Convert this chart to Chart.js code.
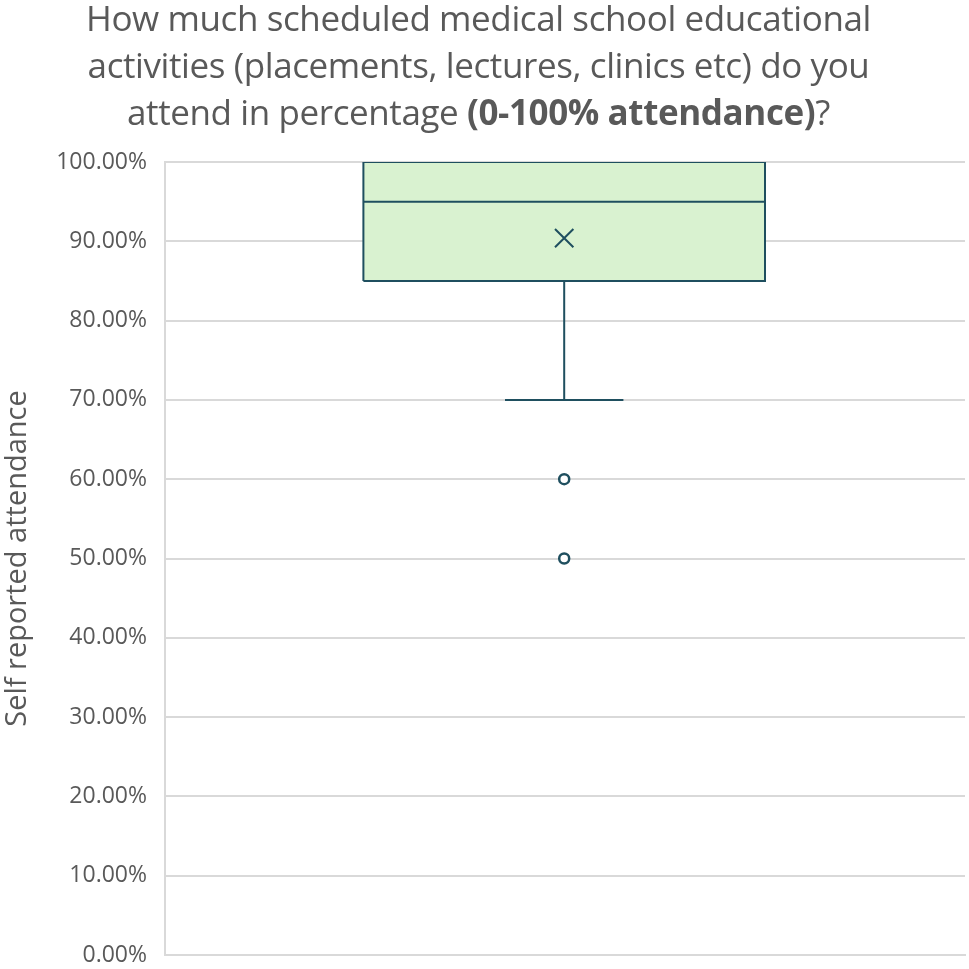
<!DOCTYPE html>
<html>
<head>
<meta charset="utf-8">
<script src="https://cdn.jsdelivr.net/npm/chart.js@4.4.1/dist/chart.umd.min.js"></script>
<style>
  html, body { margin:0; padding:0; background:#fff; }
  #wrap { position:relative; width:969px; height:969px; }
  #title {
    position:absolute; left:-6px; top:-6px; width:969px; text-align:center;
    font-family:"Open Sans","Noto Sans",sans-serif; font-size:35px; line-height:47px;
    color:#595959; letter-spacing:-0.4px;
  }
  #title b { font-weight:700; }
  canvas { position:absolute; left:0; top:0; }
</style>
</head>
<body>
<div id="wrap">
  <canvas id="c" width="969" height="969"></canvas>
  <div id="title">How much scheduled medical school educational<br>activities (placements, lectures, clinics etc) do you<br>attend in percentage <b>(0-100% attendance)</b>?</div>
</div>
<script>
// box plot summary (percent)
const q1 = 85, median = 95, q3 = 100, mean = 90.4;
const whiskerLow = 70;
const outliers = [60, 50];
const yTicks = [0, 10, 20, 30, 40, 50, 60, 70, 80, 90, 100];

const INK  = '#1f4f5f';
const FILL = '#d9f2d0';
const GRID = '#d9d9d9';
const TXT  = '#595959';
const FONT = '"Open Sans","Noto Sans",sans-serif';

// horizontal positions on a hidden 0..1 axis
const boxL = 0.248, boxR = 0.75, mid = 0.499, capL = 0.425, capR = 0.573;

// lower order draws on top
const lineDs = (pts, extra) => Object.assign({
  type:'line', data:pts, borderColor:INK, borderWidth:2,
  pointRadius:0, fill:false, tension:0, showLine:true, order:1
}, extra || {});

new Chart(document.getElementById('c'), {
  type:'scatter',
  data:{
    datasets:[
      // box fill: between Q3 edge and Q1 edge
      lineDs([{x:boxL, y:q3}, {x:boxR, y:q3}], { borderWidth:0, fill:'+1', backgroundColor:FILL, order:10 }),
      lineDs([{x:boxL, y:q1}, {x:boxR, y:q1}], { borderWidth:0, order:11 }),
      // box outline, median, whisker, cap
      lineDs([{x:boxL, y:q1}, {x:boxL, y:q3}, {x:boxR, y:q3}, {x:boxR, y:q1}, {x:boxL, y:q1}]),
      lineDs([{x:boxL, y:median}, {x:boxR, y:median}]),
      lineDs([{x:mid, y:q1}, {x:mid, y:whiskerLow}]),
      lineDs([{x:capL, y:whiskerLow}, {x:capR, y:whiskerLow}]),
      { data:[{x:mid, y:mean}], pointStyle:'crossRot', order:0,
        pointRadius:13, borderColor:INK, borderWidth:2 },
      { data:outliers.map(v => ({x:mid, y:v})), pointStyle:'circle', order:0,
        pointRadius:5, backgroundColor:'#fff', borderColor:INK, borderWidth:2.5 }
    ]
  },
  options:{
    responsive:false, animation:false,
    layout:{ autoPadding:false, padding:{ top:162, right:4, bottom:14, left:0 } },
    plugins:{ legend:{ display:false }, tooltip:{ enabled:false } },
    scales:{
      x:{
        type:'linear', min:0, max:1,
        ticks:{ display:false }, grid:{ display:false },
        border:{ display:true, color:GRID, width:2 },
        afterFit: s => { s.height = 0; s.paddingLeft = 0; s.paddingRight = 0; }
      },
      y:{
        min:0, max:100,
        afterBuildTicks: s => { s.ticks = yTicks.map(v => ({ value:v })); },
        ticks:{ color:TXT, padding:18, font:{ family:FONT, size:23 },
          callback: v => v.toFixed(2) + '%' },
        grid:{ color:GRID, lineWidth:2, drawTicks:false },
        border:{ display:true, color:GRID, width:2 },
        title:{ display:true, text:'Self reported attendance', color:TXT, padding:0,
          font:{ family:FONT, size:29 } },
        afterFit: s => { s.width = 165; s.paddingTop = 0; s.paddingBottom = 0; }
      }
    }
  }
});
</script>
</body>
</html>
